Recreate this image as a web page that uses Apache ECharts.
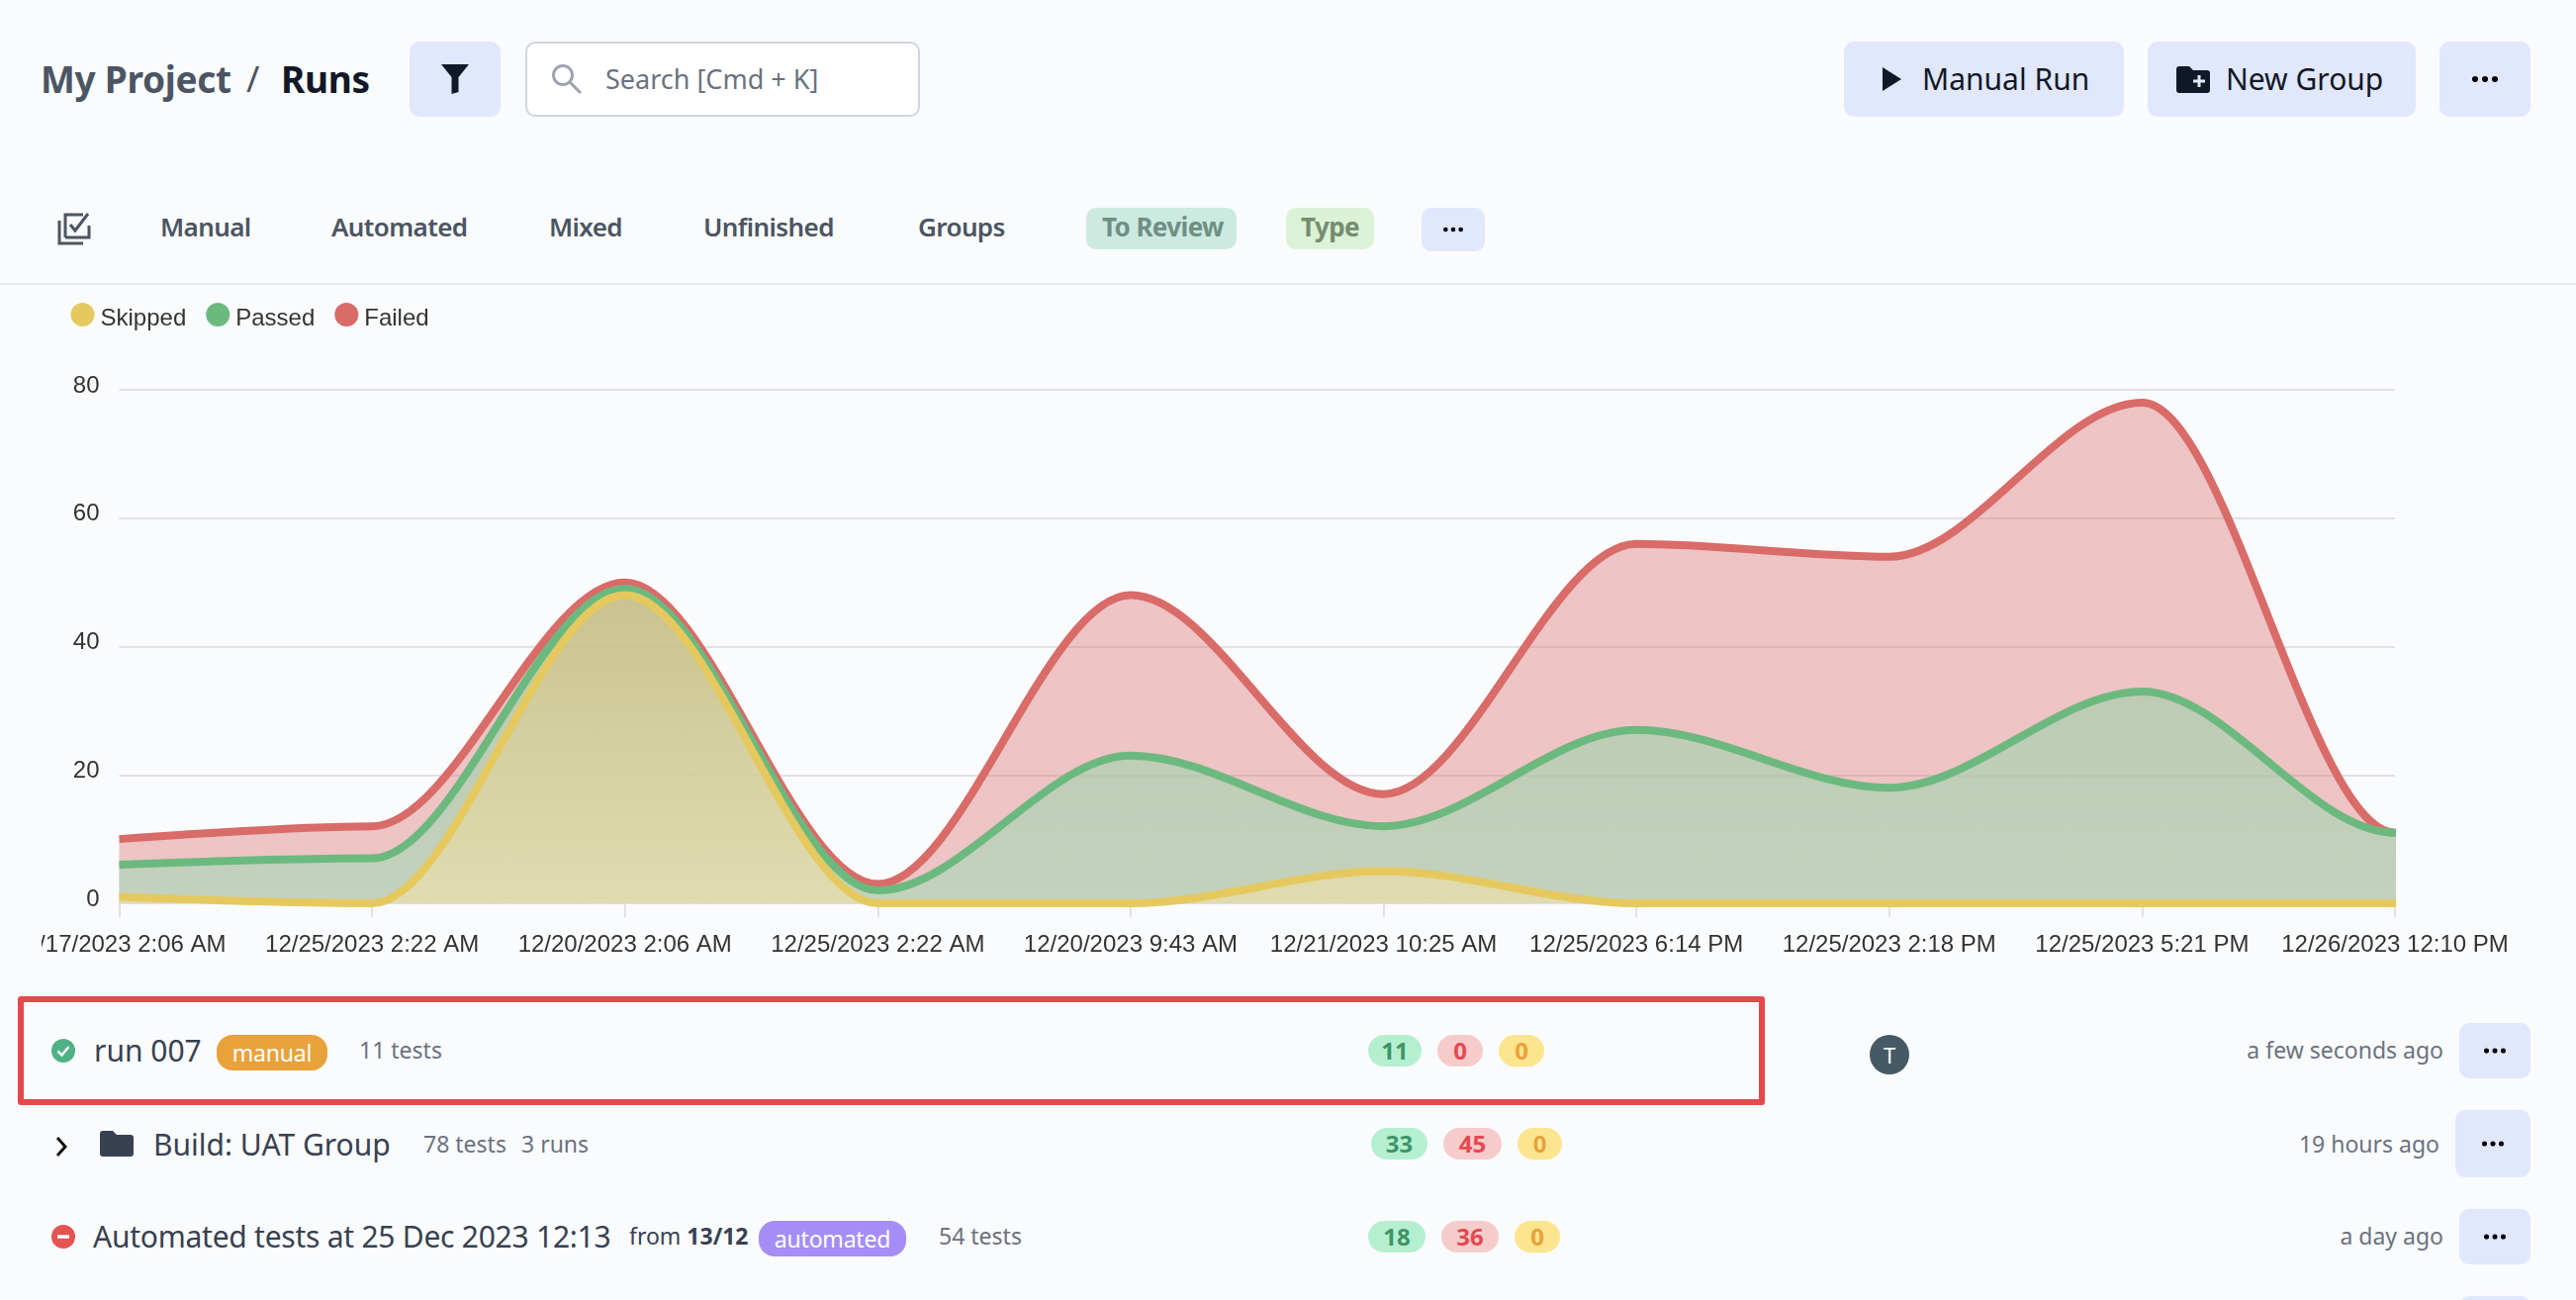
<!DOCTYPE html>
<html lang="en">
<head>
<meta charset="UTF-8">
<title>Runs</title>
<script src="https://cdn.jsdelivr.net/npm/echarts@6/dist/echarts.min.js"></script>
<style>
html, body { margin: 0; width: 2604px; height: 1314px; overflow: hidden; background: #fafbfd; font-family: "Noto Sans", sans-serif; }
#main { position: absolute; left: 42px; top: 290px; width: 2562px; height: 700px; }
.t { position: absolute; transform: translateY(-50%); white-space: nowrap; line-height: 1.2; }
.b { position: absolute; box-sizing: border-box; border-radius: 10px; background: #e1e7fd; }
.tab { font-size: 26px; font-weight: 600; color: #4b5563; top: 230px; letter-spacing: -0.6px; }
.title { font-size: 30px; color: #374151; }
.sub { font-size: 23px; color: #6b7280; }
.badge { position: absolute; height: 32px; border-radius: 16px; font-size: 24px; font-weight: 700; text-align: center; line-height: 32px; }
.g { background: #b4f0d0; color: #3f9468; }
.r { background: #f6cccb; color: #e5484d; }
.y { background: #fbe58f; color: #e9a23b; }
.pill { position: absolute; height: 36px; border-radius: 16px; color: #fff; font-size: 23px; letter-spacing: -0.2px; text-align: center; line-height: 36px; }
.dots { position: absolute; width: 26px; height: 6px; }
svg { position: absolute; }
</style>
</head>
<body>

<div id="main"></div>
<!-- hides the few px the line clip lets through past the right end of the grid -->
<div style="position:absolute;left:2422px;top:480px;width:10px;height:440px;background:#fafbfd"></div>

<!-- top bar -->
<div class="t" style="left:41px;top:80px;font-size:37px;font-weight:700;color:#4b5563;letter-spacing:-0.3px">My Project</div>
<div class="t" style="left:249px;top:80px;font-size:36px;color:#4b5563">/</div>
<div class="t" style="left:284px;top:80px;font-size:37px;font-weight:700;color:#111827;letter-spacing:-0.3px">Runs</div>
<div class="b" style="left:414px;top:42px;width:92px;height:76px"></div>
<svg style="left:446px;top:65px" width="28" height="30" viewBox="0 0 28 30"><path d="M0 0H28L17.500 13V28L10.500 30V13Z" fill="#111827"/></svg>
<div class="b" style="left:531px;top:42px;width:399px;height:76px;background:#fff;border:2px solid #d1d5db"></div>
<svg style="left:557px;top:64px" width="32" height="32" viewBox="0 0 32 32"><circle cx="12" cy="12" r="9.500" fill="none" stroke="#9ca3af" stroke-width="3"/><path d="M19 19L30 30" stroke="#9ca3af" stroke-width="3"/></svg>
<div class="t" style="left:612px;top:80px;font-size:27px;color:#6b7280">Search [Cmd + K]</div>

<div class="b" style="left:1864px;top:42px;width:283px;height:76px"></div>
<svg style="left:1903px;top:68px" width="19" height="24" viewBox="0 0 19 24"><path d="M0 0L19 12L0 24Z" fill="#111827"/></svg>
<div class="t" style="left:1943px;top:80px;font-size:30px;color:#111827">Manual Run</div>
<div class="b" style="left:2171px;top:42px;width:271px;height:76px"></div>
<svg style="left:2200px;top:67px" width="34" height="27" viewBox="0 0 34 27"><path d="M3 0H13L17 4H31Q34 4 34 7V24Q34 27 31 27H3Q0 27 0 24V3Q0 0 3 0Z" fill="#111827"/><path d="M23 9V21M17 15H29" stroke="#e1e7fd" stroke-width="3"/></svg>
<div class="t" style="left:2250px;top:80px;font-size:30px;color:#111827">New Group</div>
<div class="b" style="left:2466px;top:42px;width:92px;height:76px"></div>
<svg class="dots" style="left:2499px;top:77px" viewBox="0 0 26 6"><circle cx="3" cy="3" r="3"/><circle cx="13" cy="3" r="3"/><circle cx="23" cy="3" r="3"/></svg>

<!-- tabs -->
<svg style="left:58px;top:214px" width="34" height="34" viewBox="0 0 34 34" fill="none" stroke="#4b5563" stroke-width="3"><path d="M8 26V3H26M32 14V26H8M2 9V32H26"/><path d="M13 13L18 19L31 2"/></svg>
<div class="t tab" style="left:162px">Manual</div>
<div class="t tab" style="left:335px">Automated</div>
<div class="t tab" style="left:555px">Mixed</div>
<div class="t tab" style="left:711px">Unfinished</div>
<div class="t tab" style="left:928px">Groups</div>
<div class="b" style="left:1098px;top:210px;width:152px;height:42px;background:#cdeae1"></div>
<div class="t tab" style="left:1114px;color:#6f8f85;font-weight:700">To Review</div>
<div class="b" style="left:1300px;top:210px;width:89px;height:42px;background:#dcf2d6"></div>
<div class="t tab" style="left:1315px;color:#748c6f;font-weight:700">Type</div>
<div class="b" style="left:1437px;top:210px;width:64px;height:44px"></div>
<svg class="dots" style="left:1459px;top:229px;width:20px;height:6px" viewBox="0 0 26 6"><circle cx="3" cy="3" r="3"/><circle cx="13" cy="3" r="3"/><circle cx="23" cy="3" r="3"/></svg>
<div style="position:absolute;left:0;top:286px;width:2604px;height:2px;background:#e5e7eb"></div>

<!-- highlight box -->
<div style="position:absolute;left:18px;top:1007px;width:1766px;height:110px;box-sizing:border-box;border:6px solid #e5484d;border-radius:3px"></div>

<!-- run 007 -->
<svg style="left:52px;top:1050px" width="24" height="24" viewBox="0 0 24 24"><circle cx="12" cy="12" r="12" fill="#4fb286"/><path d="M6.500 12.500L10.500 16.500L17.500 8" fill="none" stroke="#fff" stroke-width="2.500"/></svg>
<div class="t title" style="left:95px;top:1062px">run 007</div>
<div class="pill" style="left:219px;top:1046px;width:112px;background:#e9a23b">manual</div>
<div class="t sub" style="left:363px;top:1062px">11 tests</div>
<div class="badge g" style="left:1383px;top:1046px;width:54px">11</div>
<div class="badge r" style="left:1453px;top:1046px;width:46px">0</div>
<div class="badge y" style="left:1515px;top:1046px;width:46px">0</div>
<div style="position:absolute;left:1890px;top:1046px;width:40px;height:40px;border-radius:20px;background:#455a64;color:#fff;font-size:22px;text-align:center;line-height:40px">T</div>
<div class="t sub" style="right:134px;top:1062px">a few seconds ago</div>
<div class="b" style="left:2486px;top:1034px;width:72px;height:56px"></div>
<svg class="dots" style="left:2511px;top:1059px;width:22px;height:6px" viewBox="0 0 26 6"><circle cx="3" cy="3" r="3"/><circle cx="13" cy="3" r="3"/><circle cx="23" cy="3" r="3"/></svg>

<!-- group row -->
<svg style="left:56px;top:1149px" width="12" height="20" viewBox="0 0 12 20"><path d="M2 1L10 10L2 19" fill="none" stroke="#111" stroke-width="3"/></svg>
<svg style="left:101px;top:1143px" width="34" height="26" viewBox="0 0 34 26"><path d="M3 0H13L17 4H31Q34 4 34 7V23Q34 26 31 26H3Q0 26 0 23V3Q0 0 3 0Z" fill="#374151"/></svg>
<div class="t title" style="left:155px;top:1157px">Build: UAT Group</div>
<div class="t sub" style="left:428px;top:1157px">78 tests</div>
<div class="t sub" style="left:527px;top:1157px">3 runs</div>
<div class="badge g" style="left:1386px;top:1140px;width:57px">33</div>
<div class="badge r" style="left:1459px;top:1140px;width:59px">45</div>
<div class="badge y" style="left:1534px;top:1140px;width:45px">0</div>
<div class="t sub" style="right:138px;top:1157px">19 hours ago</div>
<div class="b" style="left:2482px;top:1122px;width:76px;height:68px"></div>
<svg class="dots" style="left:2509px;top:1153px;width:22px;height:6px" viewBox="0 0 26 6"><circle cx="3" cy="3" r="3"/><circle cx="13" cy="3" r="3"/><circle cx="23" cy="3" r="3"/></svg>

<!-- automated row -->
<svg style="left:52px;top:1238px" width="24" height="24" viewBox="0 0 24 24"><circle cx="12" cy="12" r="12" fill="#e25550"/><path d="M6 12H18" stroke="#fff" stroke-width="3.500"/></svg>
<div class="t title" style="left:94px;top:1250px;letter-spacing:-0.25px">Automated tests at 25 Dec 2023 12:13</div>
<div class="t sub" style="left:636px;top:1250px;color:#374151">from <b>13/12</b></div>
<div class="pill" style="left:767px;top:1234px;width:149px;background:#a48ef5">automated</div>
<div class="t sub" style="left:949px;top:1250px">54 tests</div>
<div class="badge g" style="left:1383px;top:1234px;width:58px">18</div>
<div class="badge r" style="left:1457px;top:1234px;width:58px">36</div>
<div class="badge y" style="left:1531px;top:1234px;width:46px">0</div>
<div class="t sub" style="right:134px;top:1250px">a day ago</div>
<div class="b" style="left:2486px;top:1222px;width:72px;height:56px"></div>
<svg class="dots" style="left:2511px;top:1247px;width:22px;height:6px" viewBox="0 0 26 6"><circle cx="3" cy="3" r="3"/><circle cx="13" cy="3" r="3"/><circle cx="23" cy="3" r="3"/></svg>
<div class="b" style="left:2486px;top:1310px;width:72px;height:56px"></div>

<script>
var categories = ['12/17/2023 2:06 AM', '12/25/2023 2:22 AM', '12/20/2023 2:06 AM', '12/25/2023 2:22 AM', '12/20/2023 9:43 AM',
    '12/21/2023 10:25 AM', '12/25/2023 6:14 PM', '12/25/2023 2:18 PM', '12/25/2023 5:21 PM', '12/26/2023 12:10 PM'];
// running totals, as the curves sit on the y axis.
// last value repeats past the axis end so the curve comes in flat at the right edge
var skipped = [1, 0, 48, 0, 0, 5, 0, 0, 0, 0, 0];
var passed = [6, 7, 49, 2, 23, 12, 27, 18, 33, 11, 11];
var failed = [10, 12, 50, 3, 48, 17, 56, 54, 78, 11, 11];

function area(top, bottom, alpha) {
    return {
        opacity: alpha,
        color: new echarts.graphic.LinearGradient(0, 0, 0, 1, [
            {offset: 0, color: top},
            {offset: 1, color: bottom}
        ])
    };
}

function curve(name, data, color, fill) {
    return {
        name: name,
        type: 'line',
        smooth: 0.33,
        smoothMonotone: 'x',
        showSymbol: false,
        data: data,
        animation: false,
        itemStyle: {color: color},
        lineStyle: {color: color, width: 8},
        areaStyle: fill
    };
}

var chart = echarts.init(document.getElementById('main'), null, {renderer: 'canvas'});
chart.setOption({
    backgroundColor: 'transparent',
    animation: false,
    textStyle: {fontFamily: '"Liberation Sans", Arial, sans-serif'},
    legend: {
        data: ['Skipped', 'Passed', 'Failed'],
        left: 29.5,
        top: 16,
        icon: 'circle',
        itemWidth: 24,
        itemHeight: 24,
        itemGap: 20,
        padding: 0,
        formatter: '{a|{name}}',
        textStyle: {
            rich: {
                a: {fontSize: 24, color: '#333', fontFamily: '"Liberation Sans", Arial, sans-serif', padding: [8, 0, 0, 1]}
            }
        }
    },
    grid: {left: 78.5, right: 183, top: 104, bottom: 77, outerBoundsMode: 'none'},
    xAxis: {
        type: 'category',
        boundaryGap: false,
        data: categories,
        max: 9,
        axisLine: {lineStyle: {color: '#e0e0e6', width: 2}},
        axisTick: {length: 14, alignWithLabel: true, lineStyle: {color: '#e0e0e6', width: 2}},
        axisLabel: {interval: 0, fontSize: 24, color: '#333', margin: 30, hideOverlap: false, alignMinLabel: 'center', alignMaxLabel: 'center'}
    },
    yAxis: {
        type: 'value',
        min: 0,
        max: 80,
        interval: 20,
        axisLine: {show: false},
        axisTick: {show: false},
        axisLabel: {fontSize: 24, color: '#333', margin: 20, verticalAlign: 'bottom', lineHeight: 8},
        splitLine: {lineStyle: {color: '#e0e0e6', width: 2}}
    },
    series: [
        curve('Failed', failed, '#d96b68', area('#d96b68', '#d96b68', 0.38)),
        curve('Passed', passed, '#6cb97f', area('#9acaa3', '#a7dbb7', 0.6)),
        curve('Skipped', skipped, '#e5c95f', area('#d2c079', '#f3e3a8', 0.6))
    ]
});
</script>
</body>
</html>
